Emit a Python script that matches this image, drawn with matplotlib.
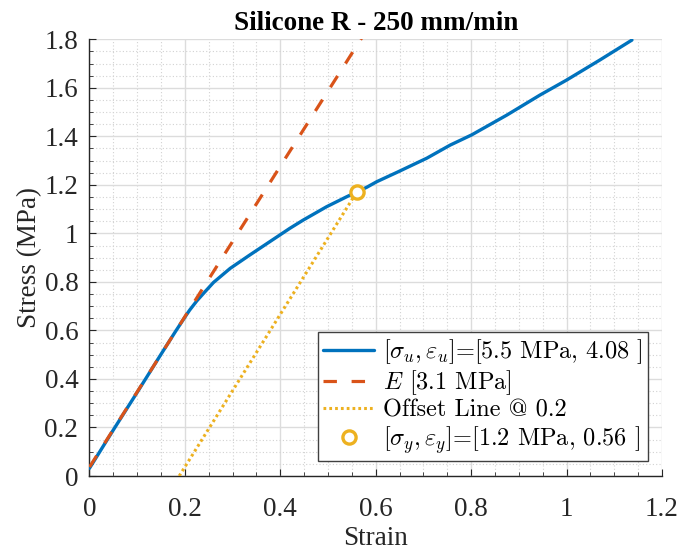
import matplotlib
matplotlib.use("Agg")
import matplotlib.pyplot as plt
from matplotlib.ticker import MultipleLocator
import numpy as np

# Measured stress-strain curve
strain = [0.0, 0.05, 0.1, 0.15, 0.18, 0.2, 0.21, 0.225, 0.24, 0.26, 0.295,
          0.336, 0.378, 0.42, 0.448, 0.497, 0.539, 0.581, 0.602, 0.647,
          0.707, 0.756, 0.801, 0.875, 0.944, 1.0, 1.07, 1.137]
stress = [0.032, 0.19, 0.345, 0.502, 0.595, 0.655, 0.684, 0.722, 0.755, 0.798,
          0.856, 0.911, 0.966, 1.021, 1.055, 1.110, 1.151, 1.19, 1.213, 1.254,
          1.31, 1.364, 1.406, 1.488, 1.57, 1.632, 1.715, 1.797]

# Elastic fit and offset construction
modulus = 3.1          # MPa
intercept = 0.037      # MPa
offset = 0.2
yield_strain = 0.56
yield_stress = 1.17

label_curve = r'$[\sigma_u,\varepsilon_u]$=[5.5 MPa, 4.08 ]'
label_mod = r'$E$ [3.1 MPa]'
label_off = 'Offset Line @ 0.2'
label_yld = r'$[\sigma_y,\varepsilon_y]$=[1.2 MPa, 0.56 ]'

c_blue = '#0072BD'
c_orange = '#D95319'
c_yellow = '#EDB120'

plt.rcParams['mathtext.fontset'] = 'cm'
serif = ['Liberation Serif', 'DejaVu Serif']

fig = plt.figure(figsize=(6.81, 5.53), dpi=100)
ax = fig.add_axes([0.1314, 0.1392, 0.9721 - 0.1314, 0.9289 - 0.1392])

ax.plot(strain, stress, color=c_blue, lw=2.4, label=label_curve, zorder=3,
        solid_joinstyle='round', solid_capstyle='round')

x_mod = np.array([0.0, 1.2])
ax.plot(x_mod, modulus * x_mod + intercept, color=c_orange, lw=2.3,
        dashes=(4.2, 4.6), label=label_mod, zorder=3.5)

# offset line: from its strain-axis crossing up to the yield point
x0 = offset - intercept / modulus
x_off = np.array([x0, yield_strain])
y_off = np.array([0.0, yield_stress])
ax.plot(x_off, y_off, color=c_yellow, lw=2.2, linestyle=(0, (0.9, 1.0)),
        label=label_off, zorder=3.6)

ax.plot([yield_strain], [yield_stress], 'o', ms=9.5, mfc='white', mec=c_yellow,
        mew=2.4, linestyle='none', label=label_yld, zorder=4)

ax.set_xlim(0, 1.2)
ax.set_ylim(0, 1.8)
ax.xaxis.set_minor_locator(MultipleLocator(0.05))
ax.yaxis.set_minor_locator(MultipleLocator(0.05))
ax.set_xticks(np.arange(0, 1.21, 0.2))
ax.set_xticklabels(['0', '0.2', '0.4', '0.6', '0.8', '1', '1.2'])
ax.set_yticks(np.arange(0, 1.81, 0.2))
ax.set_yticklabels(['0', '0.2', '0.4', '0.6', '0.8', '1', '1.2', '1.4', '1.6', '1.8'])

ax.grid(True, which='major', color='#dcdcdc', lw=1.0, zorder=0)
ax.grid(True, which='minor', color='#d2d2d2', lw=0.8, linestyle=(0, (1, 2)), zorder=0)
ax.set_axisbelow(True)

for s in ('top', 'right'):
    ax.spines[s].set_visible(False)
for s in ('left', 'bottom'):
    ax.spines[s].set_color('#262626')
    ax.spines[s].set_linewidth(1.0)

ax.tick_params(which='both', direction='in', colors='#262626', top=False, right=False)
ax.tick_params(which='major', length=5, width=0.8)
ax.tick_params(which='minor', length=3, width=0.6)
ax.tick_params(axis='x', which='major', pad=15)
ax.tick_params(axis='y', which='major', pad=8)
for lab in ax.get_xticklabels() + ax.get_yticklabels():
    lab.set_fontfamily(serif)
    lab.set_fontsize(19.5)
    lab.set_color('#262626')

ax.set_xlabel('Strain', fontsize=19.5, family=serif, color='#262626', labelpad=3)
ax.set_ylabel('Stress (MPa)', fontsize=19.5, family=serif, color='#262626', labelpad=2)
ax.set_title('Silicone R - 250 mm/min', fontsize=19.5, family=serif,
             fontweight='bold', pad=7)

leg = ax.legend(loc='lower right', bbox_to_anchor=(0.9755, 0.034), borderaxespad=0,
                prop={'family': ['cmr10', 'DejaVu Serif'], 'size': 17.5},
                fancybox=False, framealpha=1, edgecolor='#404040',
                handlelength=2.1, handletextpad=0.35, labelspacing=0.1,
                borderpad=0.22)
leg.get_frame().set_linewidth(1.0)

fig.savefig('out.png', dpi=100)
